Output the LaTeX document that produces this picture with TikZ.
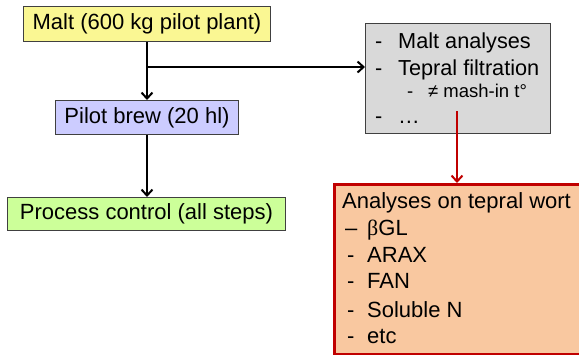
\documentclass[tikz,border=0pt]{standalone}
\usepackage{fontspec}
\setmainfont{Liberation Sans}
\newfontfamily\serifgreek{Liberation Serif}
\usetikzlibrary{arrows.meta}
\definecolor{yellowc}{HTML}{FAF793}
\definecolor{bluec}{HTML}{CCCCFF}
\definecolor{greenc}{HTML}{CCFF99}
\definecolor{grayc}{HTML}{D9D9D9}
\definecolor{orangec}{HTML}{F9C8A0}
\definecolor{redc}{HTML}{C00000}
\tikzset{
  box/.style={draw=black!75, line width=1pt, anchor=north west, inner sep=0pt, font=\fontsize{22}{26}\selectfont},
  txt/.style={anchor=base west, inner sep=0pt, font=\fontsize{21.7}{26}\selectfont},
  subtxt/.style={anchor=base west, inner sep=0pt, font=\fontsize{18.5}{22}\selectfont},
  otxt/.style={anchor=base west, inner sep=0pt, font=\fontsize{22}{26}\selectfont},
  blackarrow/.style={draw=black, line width=2pt, -{Straight Barb[length=6pt,width=11pt,line width=2pt]}},
  redarrow/.style={draw=redc, line width=2pt, -{Straight Barb[length=6pt,width=11pt,line width=2pt]}}
}
\begin{document}
\begin{tikzpicture}[x=1pt,y=-1pt]
\useasboundingbox (0,0) rectangle (579,354);
\clip (0,0) rectangle (579,354);
\fill[white] (0,0) rectangle (579,354);
% boxes
\node[box, fill=yellowc, minimum width=247pt, minimum height=35pt] (malt) at (23,6) {Malt (600 kg pilot plant)};
\node[box, fill=bluec, minimum width=183pt, minimum height=34pt] (pilot) at (55,100) {Pilot brew (20 hl)};
\node[box, fill=greenc, minimum width=278pt, minimum height=33pt] (proc) at (7,197) {Process control (all steps)};
\node[box, fill=grayc, minimum width=185pt, minimum height=110pt] (gray) at (365,23) {};
\node[box, draw=redc, line width=3pt, fill=orangec, minimum width=270pt, minimum height=170pt] (orange) at (333,183) {};
% gray box text
\node[txt] (g1d) at (375,48) {-};
\node[txt] (g1) at (398,48) {Malt analyses};
\node[txt] (g2d) at (375,75) {-};
\node[txt] (g2) at (398,75) {Tepral filtration};
\node[subtxt] (g3d) at (407,97) {-};
\node[subtxt] (g3) at (428,97) {≠ mash-in t°};
\node[txt] (g4d) at (375,123) {-};
\node[txt] (g4) at (398,123) {…};
% orange box text
\node[otxt] (o0) at (342,208) {Analyses on tepral wort};
\node[otxt] (o1d) at (345,235) {–};
\node[otxt] (o1) at (367,235) {{\serifgreek β}GL};
\node[otxt] (o2d) at (347,262) {-};
\node[otxt] (o2) at (367,262) {ARAX};
\node[otxt] (o3d) at (347,288) {-};
\node[otxt] (o3) at (367,288) {FAN};
\node[otxt] (o4d) at (347,317) {-};
\node[otxt] (o4) at (367,317) {Soluble N};
\node[otxt] (o5d) at (347,343) {-};
\node[otxt] (o5) at (367,343) {etc};
% connectors
\coordinate (br) at (malt.south |- 0,67);
\coordinate (rs) at (457,111);
\draw[blackarrow] (malt.south) -- (pilot.north);
\draw[blackarrow] (br) -- (gray.west |- br);
\draw[blackarrow] (pilot.south) -- (proc.north -| pilot.south);
\draw[redarrow] (rs) -- (rs |- orange.north);
\end{tikzpicture}
\end{document}
